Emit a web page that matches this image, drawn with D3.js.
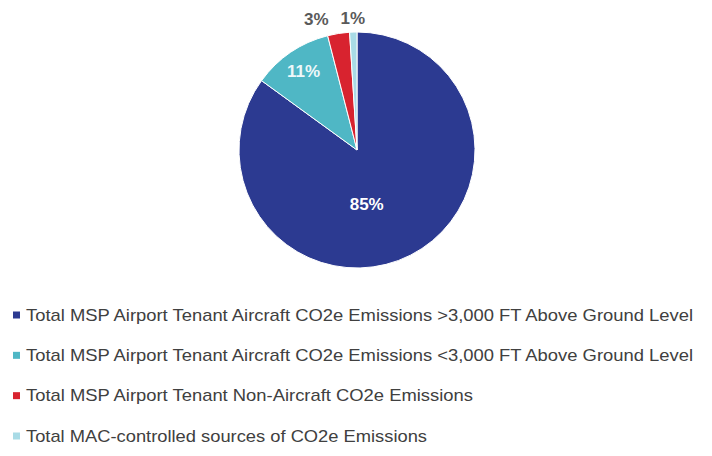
<!DOCTYPE html>
<html>
<head>
<meta charset="utf-8">
<script src="https://cdn.jsdelivr.net/npm/d3@7"></script>
<style>
  html, body { margin: 0; padding: 0; background: #fff; }
  svg { display: block; }
</style>
</head>
<body>
<div id="chart"></div>
<script>
// Share of MSP-related CO2e emissions by source
const categories = [
  "Total MSP Airport Tenant Aircraft CO2e Emissions >3,000 FT Above Ground Level",
  "Total MSP Airport Tenant Aircraft CO2e Emissions <3,000 FT Above Ground Level",
  "Total MSP Airport Tenant Non-Aircraft CO2e Emissions",
  "Total MAC-controlled sources of CO2e Emissions"
];
const shares = [85, 11, 3, 1];
const sliceLabels = ["85%", "11%", "3%", "1%"];
const colors = ["#2c3a91", "#4fb7c5", "#d8232f", "#a9dbe6"];

const W = 712, H = 456;
const cx = 357, cy = 150, R = 118;

const svg = d3.select("#chart").append("svg")
  .attr("width", W).attr("height", H);

const pie = d3.pie().sort(null).value(d => d)
  .startAngle(0).endAngle(2 * Math.PI);
const arcs = pie(shares);

const arc = d3.arc().innerRadius(0).outerRadius(R);

const g = svg.append("g").attr("transform", `translate(${cx},${cy})`);

g.selectAll("path.slice")
  .data(arcs)
  .join("path")
  .attr("class", "slice")
  .attr("d", arc)
  .attr("fill", (d, i) => colors[i])
  .attr("stroke", "#ffffff")
  .attr("stroke-width", 1);

// label placement: radius of the label arc, extra nudge and colour per slice
const labelStyle = [
  { r: 61, dx: -18, fill: "#ffffff" },
  { r: 95, dx: 0, fill: "#eef8fa" },
  { r: 132, dx: -20, fill: "#5a5a5a" },
  { r: 132, dx: 0, fill: "#5a5a5a" }
];

g.selectAll("text.lbl")
  .data(arcs)
  .join("text")
  .attr("class", "lbl")
  .each(function (d, i) {
    const s = labelStyle[i];
    const c = d3.arc().innerRadius(s.r).outerRadius(s.r).centroid(d);
    d3.select(this)
      .attr("x", c[0] + s.dx)
      .attr("y", c[1])
      .attr("fill", s.fill);
  })
  .attr("text-anchor", "middle")
  .attr("dominant-baseline", "central")
  .attr("font-family", "Liberation Sans, Arial, sans-serif")
  .attr("font-weight", "bold")
  .attr("font-size", 17)
  .text((d, i) => sliceLabels[i]);

// legend
const legendY = d3.scalePoint().domain(d3.range(categories.length))
  .range([315, 436]);
const legendWidths = [667, 667, 447, 401];

const lg = svg.append("g");
const rows = lg.selectAll("g.row")
  .data(categories)
  .join("g")
  .attr("class", "row")
  .attr("transform", (d, i) => `translate(0,${legendY(i)})`);

rows.append("rect")
  .attr("x", 13).attr("y", -3.5)
  .attr("width", 7).attr("height", 7)
  .attr("fill", (d, i) => colors[i]);

rows.append("text")
  .attr("x", 26).attr("y", 0)
  .attr("dominant-baseline", "central")
  .attr("font-family", "Liberation Sans, Arial, sans-serif")
  .attr("font-size", 17)
  .attr("fill", "#404040")
  .attr("textLength", (d, i) => legendWidths[i])
  .attr("lengthAdjust", "spacingAndGlyphs")
  .text(d => d);
</script>
</body>
</html>
